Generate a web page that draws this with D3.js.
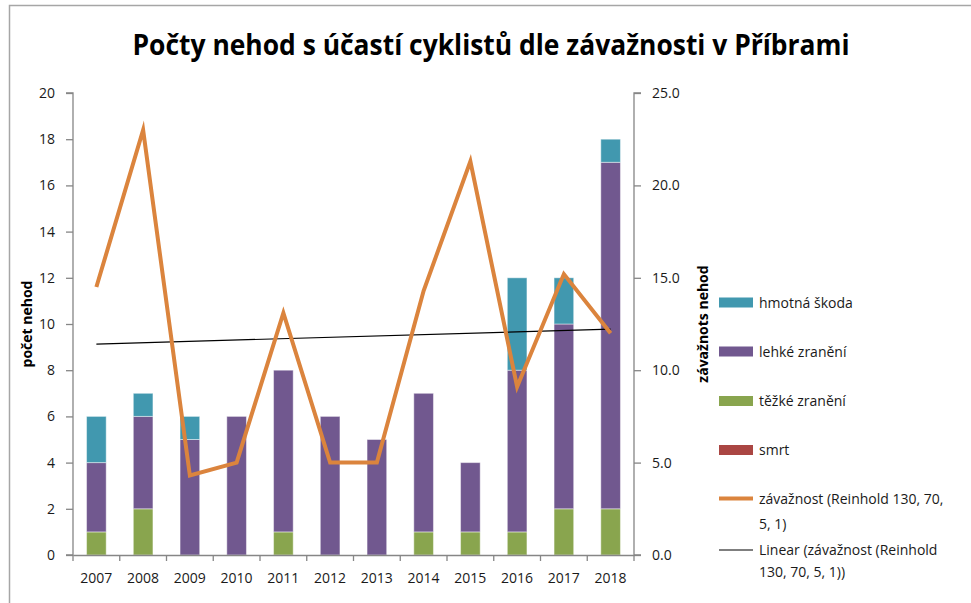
<!DOCTYPE html>
<html><head><meta charset="utf-8">
<script src="https://cdn.jsdelivr.net/npm/d3@7/dist/d3.min.js"></script>
<style>body{margin:0;background:#fff}svg{display:block}</style>
</head><body>
<svg id="chart" width="971" height="603"></svg>
<script>
const years = ["2007","2008","2009","2010","2011","2012","2013","2014","2015","2016","2017","2018"];
const smrt = [0,0,0,0,0,0,0,0,0,0,0,0];
const tezke = [1,2,0,0,1,0,0,1,1,1,2,2];
const lehke = [3,4,5,6,7,6,5,6,3,7,8,15];
const hmotna = [2,1,1,0,0,0,0,0,0,4,2,1];
const zavaznost = [14.5,23.0,4.3,5.0,13.1,5.0,5.0,14.3,21.3,9.1,15.2,12.0];
const leftTicks = [0,2,4,6,8,10,12,14,16,18,20];
const rightTicks = [0,5,10,15,20,25];
const seriesNames = ["smrt","těžké zranění","lehké zranění","hmotná škoda"];
const seriesColors = ["#AA4643","#89A54E","#71588F","#4198AF"];
const lineColor = "#DB843D";

const svg = d3.select("#chart");
const L = 73, R = 634, T = 93, B = 555;
const font = "'Open Sans', 'Noto Sans', sans-serif";

// chart border
svg.append("rect").attr("x",9.5).attr("y",5.5).attr("width",1000).attr("height",700)
  .attr("fill","none").attr("stroke","#a6a6a6").attr("stroke-width",1.5);

const x = d3.scaleBand().domain(years).range([L,R]).paddingInner(0).paddingOuter(0);
const yL = d3.scaleLinear().domain([0,20]).range([B,T]);
const yR = d3.scaleLinear().domain([0,25]).range([B,T]);

// stacked bars
const rows = years.map((yr,i)=>({year:yr, s0:smrt[i], s1:tezke[i], s2:lehke[i], s3:hmotna[i]}));
const stack = d3.stack().keys(["s0","s1","s2","s3"])(rows);
const bw = x.bandwidth()*0.42;
stack.forEach((layer,k)=>{
  svg.append("g").selectAll("rect").data(layer.filter(d=>d[1]-d[0]>0)).join("rect")
    .attr("x",d=>x(d.data.year)+x.bandwidth()/2-bw/2)
    .attr("width",bw)
    .attr("y",d=>yL(d[1]))
    .attr("height",d=>yL(d[0])-yL(d[1]))
    .attr("fill",seriesColors[k])
    .attr("stroke","#ffffff").attr("stroke-opacity",0.45).attr("stroke-width",1);
});

// trend line (linear regression of zavaznost)
const n = zavaznost.length;
const xs = d3.range(1,n+1);
const mx = d3.mean(xs), my = d3.mean(zavaznost);
const slope = d3.sum(xs.map((v,i)=>(v-mx)*(zavaznost[i]-my)))/d3.sum(xs.map(v=>(v-mx)*(v-mx)));
const icpt = my - slope*mx;
const cx = yr => x(yr)+x.bandwidth()/2;
svg.append("line")
  .attr("x1",cx(years[0])).attr("y1",yR(icpt+slope*1))
  .attr("x2",cx(years[n-1])).attr("y2",yR(icpt+slope*n))
  .attr("stroke","#000").attr("stroke-width",1.2);

// severity line
svg.append("path").datum(zavaznost)
  .attr("d",d3.line().x((d,i)=>cx(years[i])).y(d=>yR(d)))
  .attr("fill","none").attr("stroke",lineColor).attr("stroke-width",4)
  .attr("stroke-linejoin","miter").attr("stroke-miterlimit",10);

// axes
const axColor = "#868686";
const gL = svg.append("g").attr("transform",`translate(${L},0)`)
  .call(d3.axisLeft(yL).tickValues(leftTicks).tickSize(7).tickPadding(11).tickFormat(d3.format("d")));
const gR = svg.append("g").attr("transform",`translate(${R},0)`)
  .call(d3.axisRight(yR).tickValues(rightTicks).tickSize(7).tickPadding(11).tickFormat(d3.format(".1f")));
const gX = svg.append("g").attr("transform",`translate(0,${B})`)
  .call(d3.axisBottom(x).tickSize(0).tickPadding(18));
// x tick marks at band boundaries
svg.append("g").selectAll("line").data(years.map(y=>x(y)).concat([R])).join("line")
  .attr("x1",d=>d).attr("x2",d=>d).attr("y1",B).attr("y2",B+6)
  .attr("stroke",axColor).attr("stroke-width",1.3);

[gL,gR,gX].forEach(g=>{
  g.selectAll("path.domain").attr("stroke",axColor).attr("stroke-width",1.3);
  g.selectAll(".tick line").attr("stroke",axColor).attr("stroke-width",1.3);
  g.selectAll("text").attr("font-family",font).attr("font-size",14).attr("fill","#1a1a1a");
});
gL.select("path.domain").attr("d",`M-7,${T}H0V${B}H-7`);
gR.select("path.domain").attr("d",`M7,${T}H0V${B}H7`);

// axis titles
svg.append("text").attr("transform",`translate(32,${(T+B)/2}) rotate(-90)`)
  .attr("text-anchor","middle").attr("font-family",font).attr("font-weight","bold")
  .attr("font-size",14).attr("fill","#000").text("počet nehod");
svg.append("text").attr("transform",`translate(708,${(T+B)/2}) rotate(-90)`)
  .attr("text-anchor","middle").attr("font-family",font).attr("font-weight","bold")
  .attr("font-size",14).attr("fill","#000").text("závažnots nehod");

// title
svg.append("text").attr("x",491).attr("y",55).attr("text-anchor","middle")
  .attr("font-family",font).attr("font-weight","bold").attr("font-size",29)
  .attr("textLength",717).attr("lengthAdjust","spacingAndGlyphs")
  .attr("fill","#000").text("Počty nehod s účastí cyklistů dle závažnosti v Příbrami");

// legend
const lg = svg.append("g").attr("font-family",font).attr("font-size",14).attr("fill","#1a1a1a");
const legBars = [
  {name:seriesNames[3], color:seriesColors[3], y:302.5},
  {name:seriesNames[2], color:seriesColors[2], y:351.5},
  {name:seriesNames[1], color:seriesColors[1], y:401},
  {name:seriesNames[0], color:seriesColors[0], y:450}
];
legBars.forEach(d=>{
  lg.append("rect").attr("x",719).attr("y",d.y-5).attr("width",34).attr("height",10).attr("fill",d.color);
  lg.append("text").attr("x",759).attr("y",d.y+5).text(d.name);
});
lg.append("line").attr("x1",719).attr("x2",753).attr("y1",498.5).attr("y2",498.5)
  .attr("stroke",lineColor).attr("stroke-width",4);
lg.append("text").attr("x",759).attr("y",503.5).text("závažnost (Reinhold 130, 70,");
lg.append("text").attr("x",759).attr("y",528.5).text("5, 1)");
lg.append("line").attr("x1",719).attr("x2",753).attr("y1",550).attr("y2",550)
  .attr("stroke","#000").attr("stroke-width",1.2);
lg.append("text").attr("x",759).attr("y",555).text("Linear (závažnost (Reinhold");
lg.append("text").attr("x",759).attr("y",577).text("130, 70, 5, 1))");
</script>
</body></html>
